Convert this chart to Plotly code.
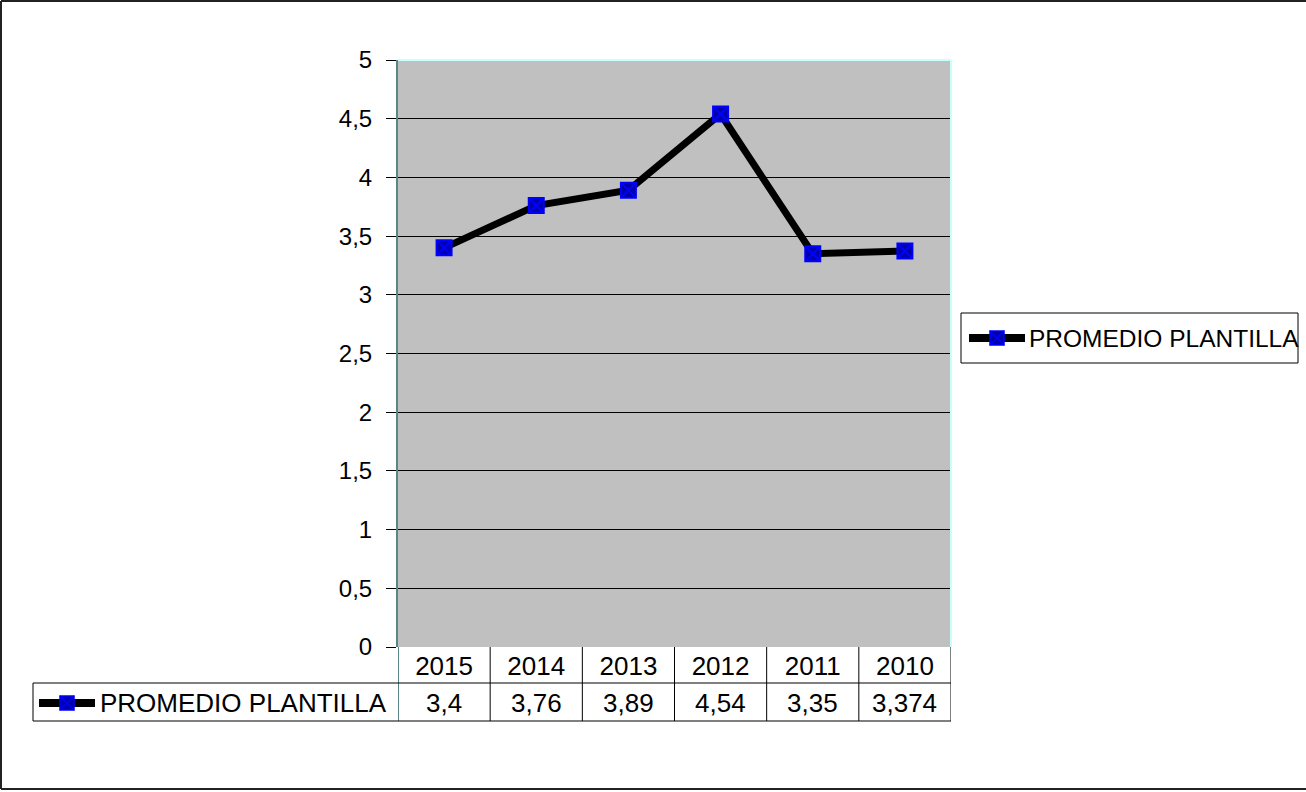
import plotly.graph_objects as go

years = ["2015", "2014", "2013", "2012", "2011", "2010"]
promedio = [3.4, 3.76, 3.89, 4.54, 3.35, 3.374]
series_name = "PROMEDIO PLANTILLA"
y_ticks = [0, 0.5, 1, 1.5, 2, 2.5, 3, 3.5, 4, 4.5, 5]

W, H = 1306, 792
L, R, T, B = 398, 951, 60, 647
FONT = "Liberation Sans, Arial, sans-serif"
MK_FILL = "#0000a8"
MK_LINE = "#0000ff"
AXIS_COL = "#5a8585"
TABLE_FS = 26
LEGEND_FS = 24.5


def px(p):
    return (p - L) / (R - L)


def py(p):
    return (B - p) / (B - T)


fig = go.Figure()
fig.add_trace(go.Scatter(
    x=years, y=promedio, mode="lines+markers", name=series_name,
    line=dict(color="black", width=7),
    marker=dict(symbol="square-x", size=15, color=MK_FILL,
                line=dict(color=MK_LINE, width=2)),
    showlegend=False, hoverinfo="x+y",
))

shapes = []
annotations = []

# outer chart border (top, left, bottom)
for x0, y0, x1, y1 in [(1, 1, 1306, 1), (1, 1, 1, 789), (1, 789, 1306, 789)]:
    shapes.append(dict(type="line", xref="paper", yref="paper",
                       x0=px(x0), x1=px(x1), y0=py(y0), y1=py(y1),
                       line=dict(color="#222", width=2), layer="below"))

# plot-area border (light cyan top/right)
shapes.append(dict(type="line", xref="paper", yref="paper",
                   x0=0, x1=1, y0=1, y1=1, line=dict(color="#c8ffff", width=2)))
shapes.append(dict(type="line", xref="paper", yref="paper",
                   x0=1, x1=1, y0=0, y1=1, line=dict(color="#c8ffff", width=2)))

# data table
row1 = py(683)
row2 = py(721)
n = len(years)
for i in range(n + 1):
    xb = i - 0.5
    shapes.append(dict(type="line", xref="x", yref="paper", x0=xb, x1=xb,
                       y0=0, y1=row2,
                       line=dict(color=AXIS_COL if i == 0 else "black", width=2 if i == 0 else 1)))
for yy in (row1, row2):
    shapes.append(dict(type="line", xref="paper", yref="paper", x0=px(33), x1=1,
                       y0=yy, y1=yy, line=dict(color="black", width=1)))
shapes.append(dict(type="line", xref="paper", yref="paper", x0=px(33), x1=px(33),
                   y0=row1, y1=row2, line=dict(color="black", width=1)))

for i, v in enumerate(promedio):
    annotations.append(dict(x=i, y=py(703), xref="x", yref="paper",
                            xanchor="center", yanchor="middle",
                            text=f"{v:g}".replace(".", ","), showarrow=False,
                            font=dict(family=FONT, size=TABLE_FS, color="black")))


def legend_key(x_left, x_right, yc):
    xc = (x_left + x_right) / 2
    s = 7
    shapes.append(dict(type="line", xref="paper", yref="paper",
                       x0=px(x_left), x1=px(x_right), y0=py(yc), y1=py(yc),
                       line=dict(color="black", width=8)))
    shapes.append(dict(type="rect", xref="paper", yref="paper",
                       x0=px(xc - s), x1=px(xc + s), y0=py(yc - s), y1=py(yc + s),
                       fillcolor=MK_FILL, line=dict(color=MK_LINE, width=1.5)))
    shapes.append(dict(type="line", xref="paper", yref="paper",
                       x0=px(xc - s), x1=px(xc + s), y0=py(yc - s), y1=py(yc + s),
                       line=dict(color=MK_LINE, width=1.5)))
    shapes.append(dict(type="line", xref="paper", yref="paper",
                       x0=px(xc - s), x1=px(xc + s), y0=py(yc + s), y1=py(yc - s),
                       line=dict(color=MK_LINE, width=1.5)))


# table legend cell
legend_key(39, 95, 703)
annotations.append(dict(x=px(98), y=py(703), xref="paper", yref="paper",
                        xanchor="left", yanchor="middle", text=series_name, showarrow=False,
                        font=dict(family=FONT, size=TABLE_FS, color="black")))

# right legend box
shapes.append(dict(type="rect", xref="paper", yref="paper",
                   x0=px(961), x1=px(1298), y0=py(313), y1=py(363),
                   line=dict(color="black", width=1), fillcolor="white"))
legend_key(969, 1025, 338)
annotations.append(dict(x=px(1027), y=py(338), xref="paper", yref="paper",
                        xanchor="left", yanchor="middle", text=series_name, showarrow=False,
                        font=dict(family=FONT, size=LEGEND_FS, color="black")))

fig.update_layout(
    width=W, height=H,
    margin=dict(l=L, r=W - R, t=T, b=H - B, pad=0),
    paper_bgcolor="white", plot_bgcolor="#c0c0c0",
    separators=",.",
    font=dict(family=FONT, size=24, color="black"),
    shapes=shapes, annotations=annotations,
    showlegend=False,
)
fig.update_xaxes(type="category", range=[-0.5, n - 0.5], showgrid=False,
                 zeroline=False, showline=False, ticks="",
                 tickfont=dict(family=FONT, size=TABLE_FS, color="black"),
                 ticklabelstandoff=1)
fig.update_yaxes(range=[0, 5], tickvals=y_ticks, showgrid=True, gridcolor="black",
                 gridwidth=1, zeroline=False, showline=True, linecolor=AXIS_COL,
                 linewidth=2, ticks="outside", ticklen=10, tickcolor="black",
                 tickwidth=1, tickfont=dict(family=FONT, size=24, color="black"),
                 ticklabelstandoff=9)

fig.write_html("out.html", config={"displayModeBar": False},
               post_script="document.body.style.margin='0';document.body.style.overflow='hidden';")
